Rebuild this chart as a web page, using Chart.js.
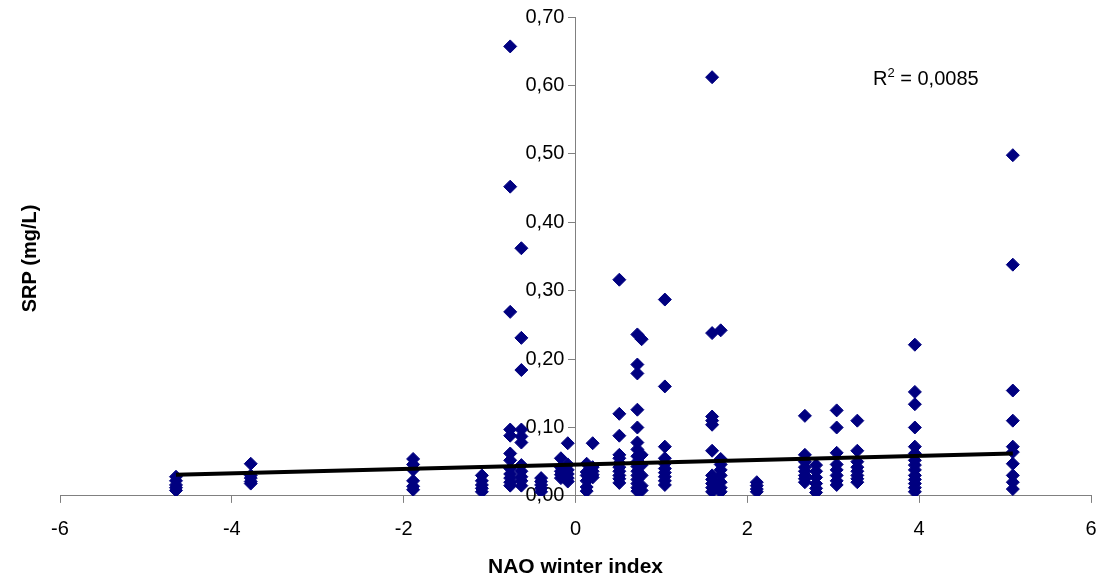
<!DOCTYPE html>
<html><head><meta charset="utf-8">
<script src="https://cdn.jsdelivr.net/npm/chart.js@4.4.1/dist/chart.umd.min.js"></script>
<style>html,body{margin:0;padding:0;background:#fff;overflow:hidden}#wrap{width:1104px;height:579px;position:relative}canvas{display:block}</style>
</head><body><div id="wrap"><canvas id="c"></canvas></div>
<script>
// NAO winter index value of each sampled year (x)
const naoIndex = [-4.65, -3.78, -1.89, -1.09, -0.76, -0.63, -0.40, -0.17, -0.09, 0.13, 0.20, 0.51, 0.72, 0.77, 1.04, 1.59, 1.69, 2.11, 2.67, 2.80, 3.04, 3.28, 3.95, 5.09];
// SRP (mg/L) measurements for each NAO value (same order)
const srpValues = [
  [0.028, 0.022, 0.016, 0.012, 0.008],
  [0.047, 0.030, 0.026, 0.021, 0.018],
  [0.054, 0.046, 0.038, 0.022, 0.014, 0.009],
  [0.030, 0.022, 0.016, 0.011, 0.006],
  [0.657, 0.452, 0.269, 0.097, 0.088, 0.062, 0.052, 0.040, 0.032, 0.026, 0.020, 0.015],
  [0.362, 0.231, 0.184, 0.097, 0.087, 0.078, 0.045, 0.036, 0.028, 0.022, 0.015],
  [0.026, 0.021, 0.016, 0.011, 0.006],
  [0.055, 0.042, 0.036, 0.031, 0.026],
  [0.077, 0.046, 0.038, 0.032, 0.026, 0.021],
  [0.047, 0.035, 0.030, 0.022, 0.013, 0.007],
  [0.077, 0.042, 0.036, 0.031, 0.027],
  [0.316, 0.120, 0.088, 0.060, 0.055, 0.048, 0.042, 0.036, 0.030, 0.025, 0.019],
  [0.236, 0.192, 0.179, 0.126, 0.100, 0.078, 0.068, 0.058, 0.050, 0.043, 0.036, 0.030, 0.024, 0.018, 0.012, 0.007],
  [0.229, 0.060, 0.045, 0.030, 0.015, 0.008],
  [0.287, 0.160, 0.072, 0.055, 0.047, 0.040, 0.034, 0.028, 0.022, 0.016],
  [0.612, 0.238, 0.116, 0.110, 0.104, 0.066, 0.030, 0.024, 0.018, 0.012, 0.006],
  [0.242, 0.054, 0.046, 0.038, 0.030, 0.020, 0.012, 0.006],
  [0.020, 0.015, 0.010, 0.006],
  [0.117, 0.060, 0.050, 0.042, 0.036, 0.030, 0.025, 0.020],
  [0.045, 0.036, 0.027, 0.018, 0.011, 0.005],
  [0.125, 0.100, 0.063, 0.046, 0.038, 0.030, 0.022, 0.016],
  [0.110, 0.066, 0.050, 0.042, 0.036, 0.030, 0.025, 0.020],
  [0.221, 0.152, 0.134, 0.100, 0.072, 0.062, 0.052, 0.045, 0.038, 0.030, 0.024, 0.018, 0.012, 0.006],
  [0.498, 0.338, 0.154, 0.110, 0.072, 0.064, 0.047, 0.030, 0.020, 0.010]
];
// Linear trend line end points
const trendX = [-4.65, 5.09];
const trendY = [0.031, 0.062];
const rSquaredLabel = "0,0085";
// Tick labels
const yTickLabels = ["0,00", "0,10", "0,20", "0,30", "0,40", "0,50", "0,60", "0,70"];
const xTickLabels = ["-6", "-4", "-2", "0", "2", "4", "6"];
const xTitle = "NAO winter index";
const yTitle = "SRP (mg/L)";

const scatterPts = [];
naoIndex.forEach((x, i) => srpValues[i].forEach(y => scatterPts.push({x: x, y: y})));
const trendPts = trendX.map((x, i) => ({x: x, y: trendY[i]}));

const FONT = "'Liberation Sans', Arial, sans-serif";

const extraText = {
  id: 'extraText',
  afterDraw(chart) {
    const ctx = chart.ctx;
    const a = chart.chartArea;
    ctx.save();
    ctx.fillStyle = '#000';
    // y title
    ctx.font = "bold 20px " + FONT;
    ctx.textAlign = 'center';
    ctx.textBaseline = 'middle';
    ctx.translate(30, (a.top + a.bottom) / 2 + 2);
    ctx.rotate(-Math.PI / 2);
    ctx.fillText(yTitle, 0, 0);
    ctx.restore();
    // R squared
    ctx.save();
    ctx.fillStyle = '#000';
    ctx.textBaseline = 'alphabetic';
    ctx.textAlign = 'left';
    let x = 873, y = 85;
    ctx.font = "20px " + FONT;
    ctx.fillText("R", x, y);
    x += ctx.measureText("R").width;
    ctx.font = "13px " + FONT;
    ctx.fillText("2", x, y - 8);
    x += ctx.measureText("2").width;
    ctx.font = "20px " + FONT;
    ctx.fillText(" = " + rSquaredLabel, x, y);
    ctx.restore();
  }
};

new Chart(document.getElementById('c'), {
  type: 'scatter',
  data: {
    datasets: [
      {
        type: 'line',
        data: trendPts,
        borderColor: '#000',
        borderWidth: 4,
        pointRadius: 0,
        fill: false,
        order: 0
      },
      {
        data: scatterPts,
        pointStyle: 'rectRot',
        pointRadius: 6.5,
        pointBackgroundColor: '#000080',
        pointBorderColor: '#000080',
        pointBorderWidth: 1,
        order: 1
      }
    ]
  },
  options: {
    responsive: true,
    maintainAspectRatio: false,
    animation: false,
    devicePixelRatio: 1,
    layout: { padding: { left: 60, right: 13, top: 16, bottom: 0 } },
    plugins: { legend: { display: false }, tooltip: { enabled: false } },
    scales: {
      x: {
        type: 'linear',
        position: 'bottom',
        min: -6, max: 6,
        ticks: {
          stepSize: 2,
          color: '#000',
          font: { family: FONT, size: 20 },
          padding: -9,
          maxRotation: 0,
          autoSkip: false,
          callback: (v) => { const i = Math.round((v + 6) / 2); return ['', xTickLabels[i]]; }
        },
        grid: { drawOnChartArea: false, drawTicks: true, tickLength: 7, color: '#808080' },
        border: { color: '#808080', width: 1 },
        title: { display: true, text: xTitle, color: '#000', font: { family: FONT, size: 21, weight: 'bold', lineHeight: 1.1 }, padding: { top: 23, bottom: 0 } }
      },
      y: {
        type: 'linear',
        position: { x: 0 },
        min: 0, max: 0.7,
        ticks: {
          stepSize: 0.1,
          color: '#000',
          font: { family: FONT, size: 20 },
          padding: 5,
          callback: (v) => yTickLabels[Math.round(v * 10)] + "  "
        },
        grid: { drawOnChartArea: false, drawTicks: true, tickLength: 7, color: '#808080' },
        border: { color: '#808080', width: 1 }
      }
    }
  },
  plugins: [extraText]
});
</script>
</body></html>
